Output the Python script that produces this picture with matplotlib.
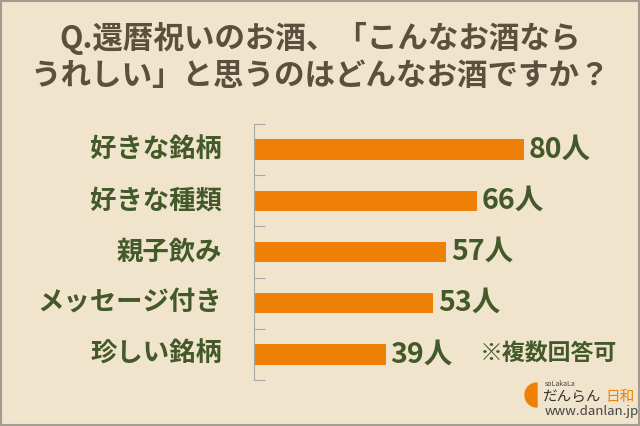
import matplotlib.pyplot as plt
from matplotlib.patches import Wedge, Rectangle

plt.rcParams['font.family'] = ['Noto Sans CJK JP', 'DejaVu Sans']

#データ
labels = ['好きな銘柄', '好きな種類', '親子飲み', 'メッセージ付き', '珍しい銘柄']
counts = [80, 66, 57, 53, 39]
unit = '人'
title = 'Q.還暦祝いのお酒、「こんなお酒なら\nうれしい」と思うのはどんなお酒ですか？'
note = '※複数回答可'

bg = '#F0E4CC'
bar_color = '#EE8008'
green = '#44592A'
brown = '#5B4F3E'

fig = plt.figure(figsize=(6.4, 4.26), dpi=100, facecolor=bg)
fig.patches.append(Rectangle((0.002, 0.003), 0.996, 0.994, transform=fig.transFigure,
                             fill=False, edgecolor='#A39C90', linewidth=1.5))

ax = fig.add_axes([0.397, 0.108, 0.527, 0.601])
ax.set_facecolor(bg)
y = list(range(len(labels)))
ax.barh(y, counts, height=0.4, color=bar_color)
ax.set_xlim(0, 100)
ax.set_ylim(len(labels) - 0.5, -0.5)

for i, v in enumerate(counts):
    ax.text(v + 1.5, i, f'{v}{unit}', va='center', ha='left', fontsize=20.5,
            fontweight='bold', color=green)
    ax.text(-0.095, i, labels[i], transform=ax.get_yaxis_transform(), va='center',
            ha='right', fontsize=19, fontweight='bold', color=green)

ax.text(0.67, 4, note, transform=ax.get_yaxis_transform(), va='center', ha='left',
        fontsize=16.5, fontweight='bold', color=green)

for s in ['top', 'right', 'bottom']:
    ax.spines[s].set_visible(False)
ax.spines['left'].set_color('#A8A8A8')
ax.set_xticks([])
ax.set_yticks([i - 0.5 for i in range(len(labels) + 1)])
ax.set_yticklabels([])
ax.tick_params(axis='y', direction='in', length=8, color='#A8A8A8')

fig.text(0.5, 1 - 57 / 426, title, ha='center', va='center', fontsize=22,
         fontweight='bold', color=brown, linespacing=1.2)

# ロゴ
fig.patches.append(Wedge((5.37, 0.31), 0.12, 90, 270,
                         transform=fig.dpi_scale_trans, color=bar_color))
fig.text(545 / 640, 1 - 384 / 426, 'soLakaLa', fontsize=5, color='#444444',
         va='center', ha='left')
fig.text(543 / 640, 1 - 397 / 426, 'だんらん', fontsize=10.5, color='#333333',
         va='center', ha='left', style='italic')
fig.text(605 / 640, 1 - 397 / 426, '日和', fontsize=10.5, color=bar_color,
         va='center', ha='left')
fig.text(545 / 640, 1 - 412 / 426, 'www.danlan.jp', fontsize=9.5, color='#444444',
         va='center', ha='left')

fig.savefig('out.png', dpi=100, facecolor=bg)
